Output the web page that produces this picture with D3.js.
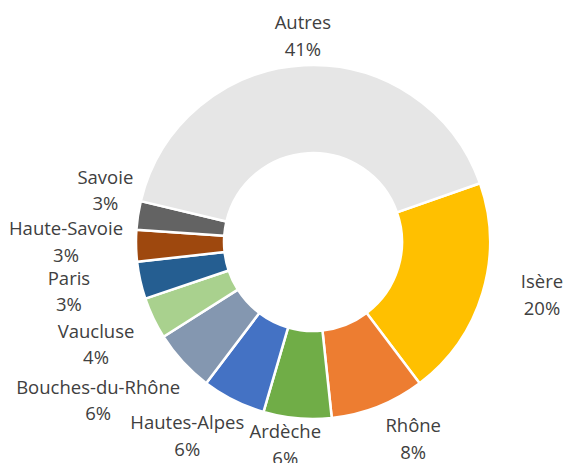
<!DOCTYPE html>
<html>
<head>
<meta charset="utf-8">
<script src="https://cdn.jsdelivr.net/npm/d3@7"></script>
<style>
  body { margin: 0; background: #fff; }
  text { font-family: "Open Sans", "Noto Sans", sans-serif; fill: #404040; }
</style>
</head>
<body>
<svg id="chart"></svg>
<script>
// departements, in the order they are drawn (clockwise)
const categories = ["Isère", "Rhône", "Ardèche", "Hautes-Alpes", "Bouches-du-Rhône",
                    "Vaucluse", "Paris", "Haute-Savoie", "Savoie", "Autres"];
// share of total
const shares = [20.1, 8.6, 6.2, 5.8, 5.7, 3.8, 3.4, 2.9, 2.6, 40.9];
// percentages as printed on the labels
const pctLabels = ["20%", "8%", "6%", "6%", "6%", "4%", "3%", "3%", "3%", "41%"];
const colors = ["#FFC000", "#ED7D31", "#70AD47", "#4472C4", "#8497B0",
                "#A9D18E", "#255E91", "#9E480E", "#636363", "#E6E6E6"];

const width = 563, height = 463;
const cx = 313, cy = 242;
const outerR = 177, innerR = 89;
const startDeg = 70.6;

// label placement: [distance from centre, angle shift from slice middle (deg)]
const labelPlace = {
  "Isère": [235, -3.8], "Rhône": [221, -5.4], "Ardèche": [205, 2.7],
  "Hautes-Alpes": [231, 6.3], "Bouches-du-Rhône": [267, 6.2], "Vaucluse": [240, 0.2],
  "Paris": [249, 1.1], "Haute-Savoie": [247, 1.2], "Savoie": [214, 5.3], "Autres": [206, 0.2]
};

const svg = d3.select('#chart')
  .attr('width', width)
  .attr('height', height);

const g = svg.append('g')
  .attr('transform', `translate(${cx},${cy})`);

const data = categories.map((c, i) => ({ name: c, value: shares[i], pct: pctLabels[i], color: colors[i] }));

const pie = d3.pie()
  .value(d => d.value)
  .sort(null)
  .startAngle(startDeg * Math.PI / 180)
  .endAngle((startDeg + 360) * Math.PI / 180);

const arc = d3.arc()
  .innerRadius(innerR)
  .outerRadius(outerR);

const arcs = pie(data);

g.selectAll('path.slice')
  .data(arcs)
  .join('path')
  .attr('class', 'slice')
  .attr('d', arc)
  .attr('fill', d => d.data.color)
  .attr('stroke', '#fff')
  .attr('stroke-width', 2.5)
  .attr('stroke-linejoin', 'round');

// labels: two lines, name then percentage
const fontSize = 18.5, lineH = 26.5;
const labels = g.selectAll('g.label')
  .data(arcs)
  .join('g')
  .attr('class', 'label')
  .attr('transform', d => {
    const p = labelPlace[d.data.name];
    const a = (d.startAngle + d.endAngle) / 2 + p[1] * Math.PI / 180;
    return `translate(${p[0] * Math.sin(a)},${-p[0] * Math.cos(a)})`;
  });

labels.append('text')
  .attr('text-anchor', 'middle')
  .attr('dy', -lineH / 2 + fontSize * 0.35)
  .style('font-size', fontSize + 'px')
  .text(d => d.data.name);

labels.append('text')
  .attr('text-anchor', 'middle')
  .attr('dy', lineH / 2 + fontSize * 0.35)
  .style('font-size', fontSize + 'px')
  .text(d => d.data.pct);
</script>
</body>
</html>
